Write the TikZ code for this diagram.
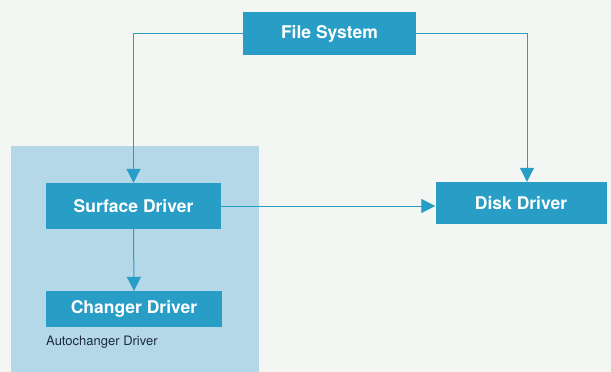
\documentclass[tikz,border=0pt]{standalone}
\usepackage{fontspec}
\setmainfont{TeX Gyre Heros}
\usetikzlibrary{arrows.meta}
\definecolor{boxblue}{RGB}{40,157,197}
\definecolor{paleblue}{RGB}{180,216,231}
\definecolor{paper}{RGB}{244,246,243}
\definecolor{navy}{RGB}{28,40,68}
\begin{document}
\begin{tikzpicture}[x=1pt,y=-1pt,
  drv/.style={fill=boxblue,text=white,font=\fontsize{17.5}{19}\selectfont\bfseries,
    inner sep=0pt,minimum width=#1},
  drv/.default=174pt,
  link/.style={draw=boxblue,line width=1pt,-{Triangle[width=14pt,length=14pt]}}]
\fill[paper] (0,0) rectangle (611,372);
\useasboundingbox (0,0) rectangle (611,372);
% autochanger area
\fill[paleblue] (11,146) rectangle (259,372);
\node[drv=173pt,minimum height=43pt] (fs) at (329.5,33.5) {File System};
\node[drv=175pt,minimum height=46pt] (sd) at (133.5,206) {Surface Driver};
\node[drv=176pt,minimum height=36pt] (cd) at (134,309) {Changer Driver};
\node[drv=171pt,minimum height=42pt] (dd) at (521,203) {Disk Driver};
\node[text=navy,font=\fontsize{13}{15}\selectfont,anchor=west,inner sep=0pt] (ac) at (46,342) {Autochanger Driver};
\draw[link] (fs.west) -| (sd.north);
\draw[link] (fs.east) -| ([xshift=6pt]dd.north);
\draw[link] (sd.south) -- (cd.north);
\draw[link] (sd.east) -- (sd.east -| dd.west);
\end{tikzpicture}
\end{document}
